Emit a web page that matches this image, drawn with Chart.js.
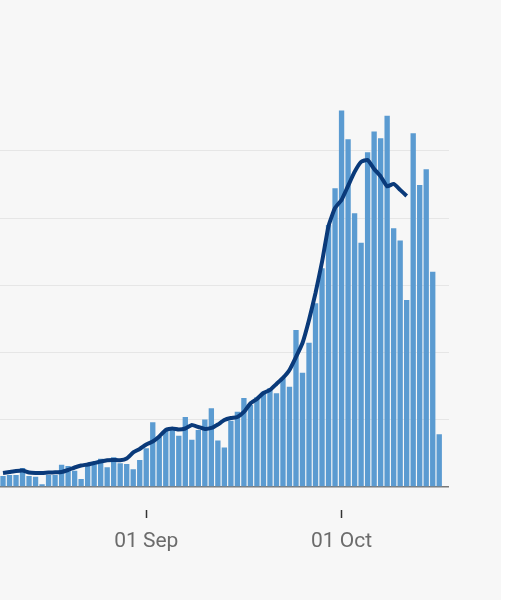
<!DOCTYPE html>
<html>
<head>
<meta charset="utf-8">
<script src="https://cdn.jsdelivr.net/npm/chart.js@4.4.1/dist/chart.umd.min.js"></script>
<style>
    body { margin: 0; background: #ffffff; }
    #wrap { width: 501px; height: 600px; background: #f7f7f7; overflow: hidden; }
    canvas { display: block; margin-left: -8px; }
</style>
</head>
<body>
<div id="wrap"><canvas id="casesChart" width="509" height="600"></canvas></div>
<script>
// DAYS SHOWN ON THE X AXIS
var dayLabels = [
    "10 Aug", "11 Aug", "12 Aug", "13 Aug", "14 Aug", "15 Aug", "16 Aug", "17 Aug", "18 Aug", "19 Aug",
    "20 Aug", "21 Aug", "22 Aug", "23 Aug", "24 Aug", "25 Aug", "26 Aug", "27 Aug", "28 Aug", "29 Aug",
    "30 Aug", "31 Aug",
    "01 Sep", "02 Sep", "03 Sep", "04 Sep", "05 Sep", "06 Sep", "07 Sep", "08 Sep", "09 Sep", "10 Sep",
    "11 Sep", "12 Sep", "13 Sep", "14 Sep", "15 Sep", "16 Sep", "17 Sep", "18 Sep", "19 Sep", "20 Sep",
    "21 Sep", "22 Sep", "23 Sep", "24 Sep", "25 Sep", "26 Sep", "27 Sep", "28 Sep", "29 Sep", "30 Sep",
    "01 Oct", "02 Oct", "03 Oct", "04 Oct", "05 Oct", "06 Oct", "07 Oct", "08 Oct", "09 Oct", "10 Oct",
    "11 Oct", "12 Oct", "13 Oct", "14 Oct", "15 Oct", "16 Oct", "17 Oct"
];

// DAILY VALUES (BARS)
var dailyValues = [
    327, 357, 357, 565, 327, 307, 80, 357, 357, 664,
    625, 485, 238, 655, 744, 842, 586, 884, 705, 684,
    527, 804, 1152, 1925, 1488, 1667, 1726, 1527, 2083, 1405,
    1696, 2006, 2345, 1384, 1173, 1970, 2241, 2649, 2440, 2669,
    2836, 2937, 2789, 3235, 2985, 4672, 3402, 4294, 5467, 6509,
    7797, 8889, 11199, 10348, 8145, 7270, 9961, 10574, 10377, 11041,
    7699, 7330, 5565, 10526, 8988, 9455, 6407, 1568, null
];

// ROLLING AVERAGE (LINE)
var averageValues = [
    417, 446, 476, 491, 432, 417, 417, 432, 437, 446,
    506, 580, 640, 670, 714, 759, 795, 804, 795, 848,
    1027, 1131, 1265, 1354, 1503, 1696, 1741, 1711, 1741, 1845,
    1786, 1726, 1756, 1860, 1994, 2053, 2083, 2232, 2485, 2619,
    2797, 2887, 3065, 3244, 3482, 3869, 4285, 4970, 5773, 6696,
    7767, 8303, 8541, 8958, 9374, 9672, 9731, 9463, 9240, 8943,
    9017, 8839, 8660, null, null, null, null, null, null
];

// LABELLED TICKS ON THE X AXIS, GRID VALUES ON THE Y AXIS
var tickLabels = ["01 Sep", "01 Oct"];
var gridValues = [0, 2000, 4000, 6000, 8000, 10000];

var ctx = document.getElementById("casesChart").getContext('2d');
var casesChart = new Chart(ctx, {
    type: 'bar',
    data: {
        labels: dayLabels,
        datasets: [{
            type: 'line',
            data: averageValues,
            borderColor: "#0a3a7a",
            borderWidth: 4,
            pointRadius: 0,
            tension: 0.15,
            order: 0
        }, {
            type: 'bar',
            data: dailyValues,
            backgroundColor: "#5b9bd1",
            barPercentage: 0.82,
            categoryPercentage: 1,
            order: 1
        }]
    },
    options: {
        responsive: false,
        animation: false,
        layout: {
            padding: { top: 87, right: 52, bottom: 34.8, left: 0 }
        },
        plugins: {
            legend: { display: false },
            tooltip: { enabled: false }
        },
        scales: {
            x: {
                offset: true,
                border: { display: false },
                grid: {
                    offset: false,
                    drawOnChartArea: false,
                    tickLength: 8,
                    tickWidth: 1.5,
                    tickColor: function(c) {
                        return tickLabels.indexOf(dayLabels[c.index]) >= 0 ? "#333333" : "rgba(0,0,0,0)";
                    }
                },
                ticks: {
                    autoSkip: false,
                    maxRotation: 0,
                    padding: 11,
                    color: "#6b6b6b",
                    font: { family: "Roboto", size: 21 },
                    callback: function(value, index) {
                        var label = dayLabels[index];
                        return tickLabels.indexOf(label) >= 0 ? label : "";
                    }
                }
            },
            y: {
                min: -684,
                max: 11900,
                border: { display: false },
                afterBuildTicks: function(scale) {
                    scale.ticks = gridValues.map(function(v) { return { value: v }; });
                },
                grid: {
                    drawTicks: false,
                    lineWidth: function(c) { return c.tick && c.tick.value === 0 ? 1.5 : 1; },
                    color: function(c) {
                        return c.tick && c.tick.value === 0 ? "#7a7a7a" : "#e6e6e6";
                    }
                },
                ticks: { display: false }
            }
        }
    }
});
</script>
</body>
</html>
